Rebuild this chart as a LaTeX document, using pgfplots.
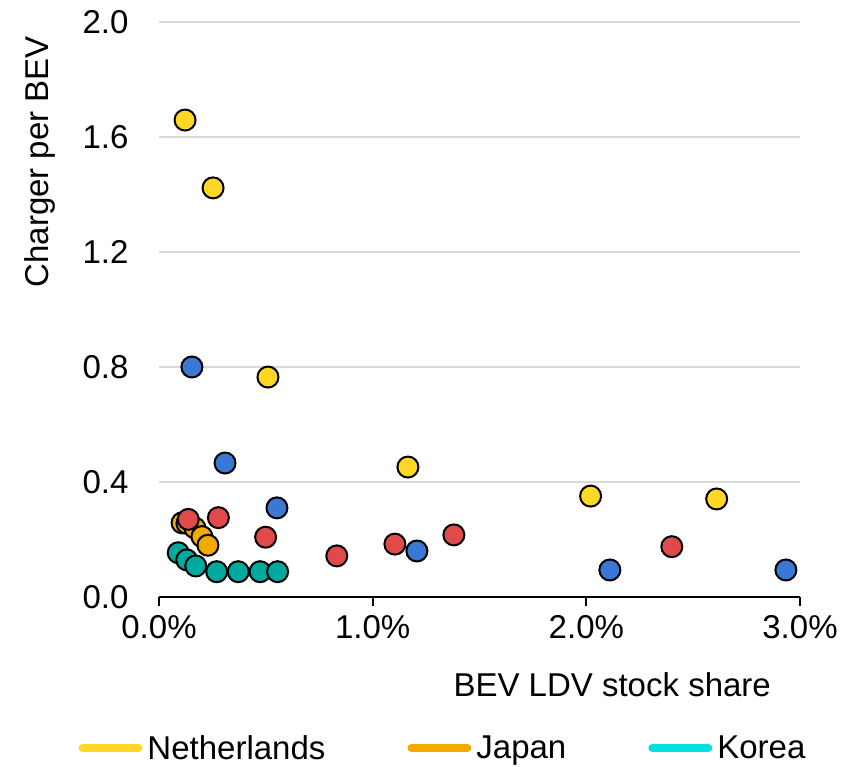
\documentclass[border=0pt]{standalone}
\usepackage{pgfplots}
\pgfplotsset{compat=1.18}
\usepackage{fontspec}
\setmainfont{Liberation Sans}

\definecolor{nlY}{HTML}{FFD724}
\definecolor{jpO}{HTML}{F2A900}
\definecolor{krT}{HTML}{00A99D}
\definecolor{krC}{HTML}{00E0E0}
\definecolor{bluP}{HTML}{3A78D6}
\definecolor{redP}{HTML}{E04A4A}
\definecolor{gridG}{HTML}{D9D9D9}

\begin{document}
\begin{tikzpicture}
\path[use as bounding box] (-159pt,-170pt) rectangle (702pt,597pt);
\begin{axis}[
    scale only axis,
    width=641pt, height=575pt,
    font=\fontsize{33}{40}\selectfont,
    xmin=0, xmax=3, ymin=0, ymax=2,
    axis x line=bottom, axis y line=left,
    axis line style={-},
    x axis line style={line width=2.5pt, black},
    y axis line style={draw=none},
    xtick={0,1,2,3},
    xticklabels={0.0\%,1.0\%,2.0\%,3.0\%},
    ytick={0,0.4,...,2.0},
    yticklabel={\pgfmathprintnumber[fixed,fixed zerofill,precision=1]{\tick}},
    /pgf/number format/assume math mode=true,
    ytick style={draw=none},
    xtick style={line width=2pt, black},
    major tick length=9pt,
    tick align=outside,
    ymajorgrids,
    grid style={gridG, line width=2pt},
    xticklabel style={yshift=-6pt},
    yticklabel style={xshift=-18pt},
    xlabel={BEV LDV stock share},
    xlabel style={at={(rel axis cs:0.707,0)}, anchor=center, yshift=-88pt},
    ylabel={Charger per BEV},
    ylabel style={at={(rel axis cs:0,0.757)}, anchor=center, yshift=119pt, rotate=0},
    legend columns=3,
    legend style={draw=none, fill=none, at={(rel axis cs:0.443,-0.263)}, anchor=center,
        font=\fontsize{33}{40}\selectfont,
        /tikz/every odd column/.append style={column sep=3pt},
        /tikz/every even column/.append style={column sep=80pt}},
    legend image code/.code={\draw[#1, line width=8pt, line cap=round] (4pt,0pt) -- (60pt,0pt);},
    clip=false,
]
\addlegendimage{nlY}
\addlegendentry{Netherlands}
\addlegendimage{jpO}
\addlegendentry{Japan}
\addlegendimage{krC}
\addlegendentry{Korea}

% Korea
\addplot[only marks, mark=*, mark size=10.5pt, mark options={fill=krT, draw=black, line width=2pt}, forget plot]
coordinates {(0.09,0.154) (0.13,0.129) (0.172,0.108) (0.27,0.088) (0.371,0.088) (0.473,0.088) (0.555,0.088)};
% Japan
\addplot[only marks, mark=*, mark size=10.5pt, mark options={fill=jpO, draw=black, line width=2pt}, forget plot]
coordinates {(0.108,0.258) (0.131,0.256) (0.168,0.24) (0.201,0.21) (0.229,0.18)};
% Netherlands
\addplot[only marks, mark=*, mark size=10.5pt, mark options={fill=nlY, draw=black, line width=2pt}, forget plot]
coordinates {(0.122,1.659) (0.253,1.423) (0.51,0.765) (1.165,0.452) (2.02,0.351) (2.61,0.341)};
% blue series
\addplot[only marks, mark=*, mark size=10.5pt, mark options={fill=bluP, draw=black, line width=2pt}, forget plot]
coordinates {(0.154,0.80) (0.309,0.466) (0.552,0.31) (1.207,0.16) (2.11,0.094) (2.934,0.094)};
% red series
\addplot[only marks, mark=*, mark size=10.5pt, mark options={fill=redP, draw=black, line width=2pt}, forget plot]
coordinates {(0.137,0.27) (0.278,0.276) (0.499,0.208) (0.832,0.143) (1.104,0.184) (1.38,0.216) (2.40,0.175)};
\end{axis}
\end{tikzpicture}
\end{document}
